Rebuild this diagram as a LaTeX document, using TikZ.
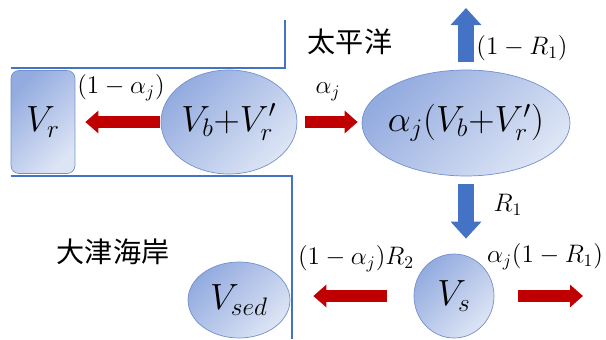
\documentclass[tikz,border=0pt]{standalone}
\usepackage{amsmath}
\usepackage{fontspec}
\usepackage{xcolor}
\usepackage{tikz}
\usetikzlibrary{arrows.meta,shapes.geometric}
\newfontfamily\cjkfont{Noto Sans CJK JP}
\definecolor{coastBlue}{HTML}{4472C4}
\definecolor{flowRed}{HTML}{C00000}
\definecolor{poolDark}{HTML}{93ABDF}
\definecolor{poolLight}{HTML}{DDE5F5}
\definecolor{poolEdge}{HTML}{7390CC}

\begin{document}
\begin{tikzpicture}[
    x=0.02cm, y=-0.02cm,
    pool/.style={ellipse,draw=poolEdge,thin,top color=poolDark,bottom color=poolLight,shading angle=45,inner sep=0pt,font=\fontsize{22}{24}\selectfont},
    reservoir/.style={pool,rectangle,rounded corners=0.16cm},
    coast/.style={coastBlue,line width=1.7pt},
    redflow/.style={flowRed,line width=6.8pt,-{Triangle[width=12.5pt,length=7.4pt]}},
    blueflow/.style={coastBlue,line width=9pt,-{Triangle[width=17pt,length=9.7pt]}},
    rate/.style={inner sep=0pt,font=\fontsize{14}{16}\selectfont},
    place/.style={inner sep=0pt,font=\cjkfont\fontsize{16}{18}\selectfont}
  ]
  \useasboundingbox (0,0) rectangle (606,339);
  %% Coast lines
  \draw[coast] (11,68) -- (285,68) -- (285,20);
  \draw[coast] (11,176) -- (292,176) -- (292,339);
  %% Pools
  \node[reservoir,minimum width=1.28cm,minimum height=2.06cm] (vr) at (43,122) {$V_r$};
  \node[pool,minimum width=2.72cm,minimum height=2.08cm] (vb) at (229,122) {$V_b{+}V_r'$};
  \node[pool,inner sep=-0.1cm,minimum width=4.16cm,minimum height=2.12cm] (va) at (466,123) {$\alpha_j(V_b{+}V_r')$};
  \node[pool,minimum width=1.6cm,minimum height=1.68cm] (vs) at (454,296) {$V_s$};
  \node[pool,minimum width=2.04cm,minimum height=1.52cm] (vsed) at (239,300) {$V_{sed}$};
  \coordinate (sea) at (466,8);
  \coordinate (outlet) at (583,296);
  %% Flows
  \draw[redflow,shorten <=0.02cm,shorten >=0.2cm] (vb.west) -- (vb.west -| vr.east);
  \draw[redflow,shorten <=0.16cm,shorten >=0.08cm] (vb.east) -- (vb.east -| va.west);
  \draw[blueflow,shorten <=0.16cm] (va.north) -- (sea);
  \draw[blueflow,shorten <=0.16cm,shorten >=0.3cm] (va.south) -- (va.south |- vs.north);
  \draw[redflow,shorten <=0.54cm,shorten >=0.46cm] (vs.west) -- (vs.west -| vsed.east);
  \draw[redflow,shorten <=0.48cm] (vs.east) -- (outlet);
  %% Rates
  \node[rate] (lossRiver) at (121,88) {$(1-\alpha_j)$};
  \node[rate] (share) at (328,92) {$\alpha_j$};
  \node[rate] (toSea) at (522,48) {$(1-R_1)$};
  \node[rate] (settle) at (508,205) {$R_1$};
  \node[rate] (backCoast) at (356,259) {$(1-\alpha_j)R_2$};
  \node[rate] (outSea) at (545,257) {$\alpha_j(1-R_1)$};
  %% Places
  \node[place] (pacific) at (350,42) {太平洋};
  \node[place] (otsu) at (113,252) {大津海岸};
\end{tikzpicture}
\end{document}
